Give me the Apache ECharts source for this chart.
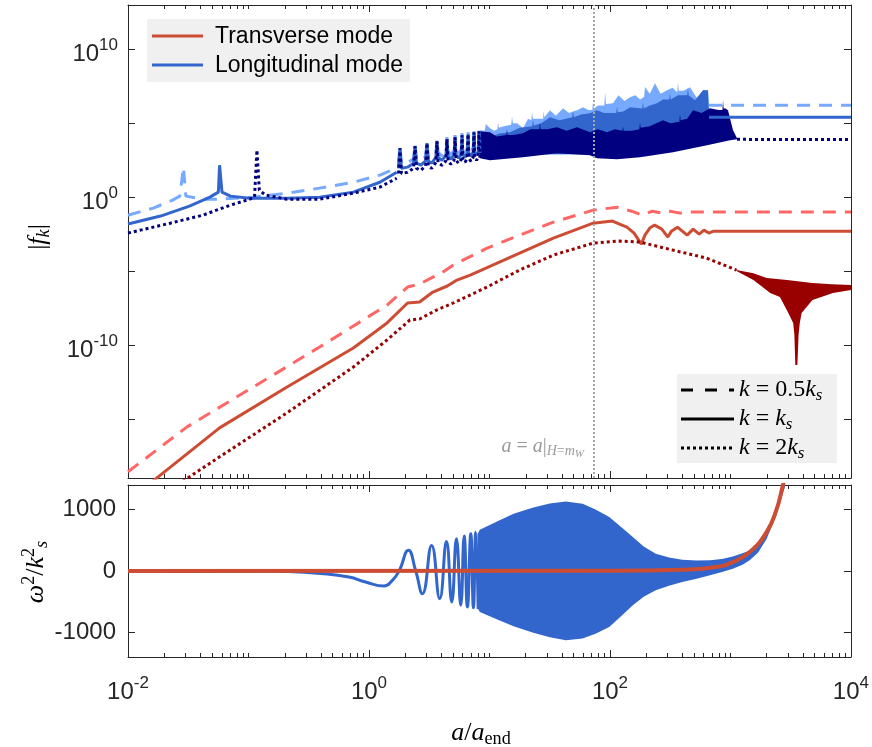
<!DOCTYPE html>
<html>
<head>
<meta charset="utf-8">
<script src="https://cdn.jsdelivr.net/npm/echarts@6/dist/echarts.min.js"></script>
<style>
html, body { margin: 0; padding: 0; background: #fff; }
#chart { width: 872px; height: 747px; }
</style>
</head>
<body>
<div id="chart"></div>
<script>
// x values are log10(a/a_end); top panel y values are log10|f_k|

// ---- top panel, longitudinal mode ----
const l05X = [-2, -1.79, -1.63, -1.57, -1.54, -1.52, -1.38, -1.24, -0.96, -0.68, -0.41, -0.13, 0.09, 0.23]
const l05Y = [-1.22, -0.74, -0.20, 0.07, 2.03, 0.07, -0.14, -0.14, 0, 0.27, 0.61, 1.01, 1.49, 1.96]
const l1X = [-2, -1.73, -1.49, -1.32, -1.25, -1.24, -1.22, -1.15, -0.99, -0.68, -0.41, -0.13, 0.09, 0.23]
const l1Y = [-1.82, -1.28, -0.61, 0, 0.34, 2.16, 0.34, 0.07, -0.07, -0.07, 0, 0.34, 1.01, 1.69]
const l2X = [-2, -1.65, -1.38, -1.15, -0.99, -0.95, -0.93, -0.91, -0.86, -0.68, -0.41, -0.13, 0.09, 0.23]
const l2Y = [-2.43, -1.76, -1.22, -0.54, -0.14, 0, 3.18, 0.47, 0.14, -0.14, -0.14, 0.27, 0.68, 1.28]

// resonance spikes, shared x for the three longitudinal curves
const spikeX = [0.245, 0.257, 0.269, 0.32, 0.37, 0.382, 0.394, 0.43, 0.47, 0.481, 0.492, 0.52,
  0.555, 0.564, 0.573, 0.605, 0.638, 0.647, 0.656, 0.68, 0.706, 0.714, 0.722, 0.743,
  0.765, 0.772, 0.779, 0.797, 0.816, 0.822, 0.828, 0.846, 0.865, 0.871, 0.877, 0.892, 0.907, 0.913, 0.921]
const spikeL05 = [2.25, 3.46, 2.25, 2.33, 2.6, 3.6, 2.6, 2.46, 2.75, 3.8, 2.75, 2.6,
  3.0, 3.93, 3.0, 2.8, 3.1, 4.07, 3.1, 2.87, 3.15, 4.2, 3.15, 2.94,
  3.2, 4.34, 3.2, 3.0, 3.3, 4.41, 3.3, 3.07, 3.35, 4.54, 3.35, 3.14, 3.4, 4.61, 3.3]
const spikeL1 = [1.95, 3.31, 1.95, 2.03, 2.3, 3.45, 2.3, 2.16, 2.45, 3.65, 2.45, 2.30,
  2.7, 3.78, 2.7, 2.5, 2.8, 3.92, 2.8, 2.57, 2.85, 4.05, 2.85, 2.64,
  2.9, 4.19, 2.9, 2.70, 3.0, 4.26, 3.0, 2.77, 3.05, 4.39, 3.05, 2.84, 3.1, 4.46, 3.0]
const spikeL2 = [1.6, 3.31, 1.6, 1.68, 1.95, 3.45, 1.95, 1.81, 2.1, 3.65, 2.1, 1.95,
  2.35, 3.78, 2.35, 2.15, 2.45, 3.92, 2.45, 2.22, 2.5, 4.05, 2.5, 2.29,
  2.55, 4.19, 2.55, 2.35, 2.65, 4.26, 2.65, 2.42, 2.7, 4.39, 2.7, 2.49, 2.75, 4.46, 2.65]

// noisy region envelopes (upper edges are jagged, lower edges hidden under the dark band)
const l05TopX = [0.921, 0.96, 0.97, 1.004, 1.04, 1.065, 1.071, 1.077, 1.12, 1.18, 1.187, 1.194, 1.23, 1.278,
  1.32, 1.347, 1.353, 1.36, 1.40, 1.445, 1.45, 1.455, 1.502, 1.55, 1.61, 1.66, 1.726, 1.776, 1.82, 1.853, 1.859,
  1.866, 1.90, 1.953, 1.959, 1.966, 2.025, 2.07, 2.12, 2.166, 2.21, 2.25, 2.284, 2.29, 2.33, 2.373, 2.42, 2.473,
  2.52, 2.558, 2.564, 2.57, 2.61, 2.664, 2.722, 2.772, 2.813, 2.822]
const l05TopY = [4.53, 4.5, 4.95, 4.66, 4.5, 4.6, 5.05, 4.7, 4.8, 4.9, 5.45, 5.0, 5.0, 4.66,
  5.3, 5.2, 5.75, 5.3, 5.3, 5.3, 5.85, 5.4, 5.88, 5.5, 6.01, 5.7, 5.88, 6.08, 5.9, 5.9, 6.42,
  6.0, 6.2, 6.2, 7.09, 6.3, 6.35, 6.9, 6.5, 6.76, 6.9, 6.6, 6.8, 7.45, 7.0, 7.70, 7.0, 7.23,
  7.4, 7.1, 7.75, 7.2, 7.2, 7.43, 6.69, 7.23, 7.23, 6.22]
const l1TopX = [0.921, 1.004, 1.08, 1.17, 1.25, 1.355, 1.361, 1.367, 1.43, 1.502, 1.58, 1.687, 1.693, 1.70, 1.76,
  1.834, 1.892, 1.95, 2.052, 2.058, 2.064, 2.11, 2.166, 2.268, 2.274, 2.28, 2.33, 2.39, 2.44, 2.492, 2.498,
  2.504, 2.564, 2.641, 2.647, 2.653, 2.705, 2.772, 2.813, 2.822]
const l1TopY = [4.46, 4.05, 4.3, 4.39, 4.7, 4.8, 5.25, 4.85, 5.0, 5.41, 5.2, 5.4, 5.88, 5.4, 5.6,
  5.68, 5.88, 5.7, 5.7, 6.15, 5.75, 5.8, 6.08, 6.0, 6.45, 6.0, 6.2, 6.35, 6.6, 6.6, 7.03,
  6.6, 6.9, 6.9, 7.36, 6.9, 6.55, 7.23, 7.23, 5.41]
const blueLowX = [0.921, 1.3, 1.8, 2.3, 2.822]
const blueLowY = [2.7, 2.9, 2.9, 3.0, 3.6]
const l2TopX = [0.921, 1.004, 1.06, 1.14, 1.145, 1.15, 1.2, 1.278, 1.34, 1.414, 1.419, 1.424, 1.48, 1.56, 1.64,
  1.726, 1.834, 1.90, 1.975, 2.04, 2.103, 2.108, 2.113, 2.18, 2.244, 2.249, 2.254, 2.33, 2.44, 2.50, 2.576,
  2.581, 2.586, 2.64, 2.689, 2.76, 2.83, 2.90, 2.933, 2.938, 2.943, 2.96, 2.979, 3.021, 3.054]
const l2TopY = [4.46, 4.39, 4.1, 4.2, 4.6, 4.2, 4.2, 4.32, 4.6, 4.6, 5.05, 4.6, 4.6, 4.73, 4.5,
  4.73, 4.39, 4.6, 4.39, 4.6, 4.5, 4.8, 4.5, 4.5, 4.6, 5.05, 4.7, 4.8, 5.20, 5.0, 5.1,
  5.6, 5.2, 5.3, 5.88, 5.7, 6.01, 5.9, 5.9, 6.55, 6.0, 6.0, 5.88, 4.53, 3.99]
const l2LowX = [0.921, 1.004, 1.278, 1.56, 1.834, 1.892, 2.058, 2.249, 2.523, 2.805, 2.996, 3.054]
const l2LowY = [2.64, 2.50, 2.70, 2.97, 2.84, 2.64, 2.57, 2.70, 3.04, 3.51, 3.85, 3.92]

// late-time plateaus
const l05TailX = [2.822, 4], l05TailY = [6.22, 6.22]
const l1TailX = [2.822, 4], l1TailY = [5.41, 5.41]
const l2TailX = [3.054, 3.2, 4], l2TailY = [3.92, 3.90, 3.90]

// ---- top panel, transverse mode ----
const t05X = [-2, -1.51, -0.96, -0.41, 0.15, 0.32, 0.42, 0.53, 0.59, 0.70, 0.98, 1.25, 1.53, 1.86, 2.06,
  2.18, 2.27, 2.35, 2.43, 2.50, 2.58, 2.66, 4]
const t05Y = [-18.58, -15.54, -12.84, -10.14, -7.30, -6.08, -5.88, -5.41, -5.20, -4.59, -3.45, -2.57, -1.69, -0.88, -0.68,
  -0.95, -1.22, -0.95, -1.08, -0.95, -1.08, -1.01, -1.01]
const t1X = [-2, -1.76, -1.24, -0.68, -0.13, 0.15, 0.32, 0.42, 0.53, 0.65, 0.73, 0.84, 1.25, 1.53, 1.86, 2.02,
  2.14, 2.2, 2.26, 2.29, 2.33, 2.37, 2.43, 2.48, 2.51, 2.56, 2.64, 2.69, 2.74, 2.78, 2.82, 2.86, 4]
const t1Y = [-20.6, -18.99, -15.61, -12.84, -10.20, -8.51, -7.16, -7.09, -6.42, -6.01, -5.61, -5.27, -3.78, -2.77, -1.76, -1.62,
  -2.03, -2.43, -3.18, -2.57, -2.09, -1.89, -2.16, -2.70, -2.30, -2.03, -2.57, -2.16, -2.50, -2.23, -2.43, -2.30, -2.30]
const t2X = [-2, -1.49, -1.24, -0.68, -0.13, 0.15, 0.34, 0.42, 0.56, 0.70, 0.98, 1.25, 1.53, 1.86, 2.08, 2.25, 2.52, 2.80, 3.05]
const t2Y = [-21.7, -18.92, -17.57, -14.59, -11.49, -9.66, -8.31, -8.24, -7.64, -7.16, -6.08, -4.93, -3.92, -3.11, -2.97, -3.04, -3.58, -4.12, -4.93]
const t2TopX = [3.05, 3.19, 3.30, 3.47, 3.68, 3.84, 4.0]
const t2TopY = [-4.93, -5.14, -5.47, -5.60, -5.81, -5.90, -5.95]
const t2LowX = [3.05, 3.19, 3.33, 3.41, 3.48, 3.52, 3.53, 3.538, 3.555, 3.565, 3.575, 3.59, 3.68, 3.85, 4.0]
const t2LowY = [-5.0, -5.61, -6.49, -6.76, -7.84, -8.51, -9.3, -11.35, -11.35, -9.3, -8.51, -7.84, -6.96, -6.49, -6.28]

const aHmW = 1.867   // log10 of a at H = m_W

// ---- bottom panel, omega^2 / k_s^2 ----
const wLX = [-2, -1, -0.7, -0.4, -0.166, -0.028, 0.125, 0.194, 0.25, 0.327, 0.388, 0.443, 0.52, 0.587, 0.643,
  0.687, 0.726, 0.762, 0.79, 0.817, 0.845, 0.867, 0.886, 0.906]
const wLY = [0, 0, -8, -40, -98, -179, -244, -152, 0, 336, 0, -369, 417, -450, 482,
  -504, 526, -558, 569, -585, 607, -600, 630, -620]
const wBandTopX = [0.9, 0.92, 1.08, 1.2, 1.357, 1.5, 1.634, 1.773, 1.88, 1.994, 2.09, 2.19, 2.28, 2.38, 2.49,
  2.6, 2.72, 2.83, 2.93, 3.02, 3.1, 3.16, 3.23, 3.3, 3.38, 3.44]
const wBandTopY = [600, 672, 824, 930, 1030, 1100, 1133, 1095, 1000, 878, 720, 553, 400, 282, 220,
  184, 170, 173, 195, 238, 290, 335, 440, 650, 1000, 1420]
const wBandLowX = [0.9, 0.92, 1.08, 1.2, 1.357, 1.5, 1.634, 1.773, 1.88, 1.994, 2.09, 2.19, 2.28, 2.38, 2.49,
  2.6, 2.72, 2.83, 2.93, 3.02, 3.1, 3.16, 3.23, 3.3, 3.38, 3.46]
const wBandLowY = [-600, -667, -802, -900, -1003, -1080, -1127, -1100, -1020, -910, -740, -558, -420, -314, -240,
  -179, -125, -70, -15, 38, 100, 173, 300, 520, 900, 1420]
const wTX = [-2, 2.0, 2.6, 2.88, 3.02, 3.16, 3.3, 3.38, 3.435, 3.47]
const wTY = [0, 3, 22, 65, 146, 309, 634, 986, 1393, 1650]

// axis ticks
const xMajor = [-2, 0, 2, 4]
const xMinor = []
for (let d = -2; d < 4; d++) {
  for (let k = 1; k <= 9; k++) {
    if (k === 1 && d % 2 === 0) continue
    xMinor.push(d + Math.log10(k))
  }
}
const fTicks = [-15, -10, -5, 0, 5, 10]
const fLabels = [-10, 0, 10]
const wTicks = [-1000, 0, 1000]

const C = {
  tSolid: '#cc4d33', tDash: '#ff6666', tDot: '#990000',
  lSolid: '#3366cc', lDash: '#77aaff', lDot: '#000080',
  axis: '#262626', gray: '#a6a6a6'
}
const SANS = 'Liberation Sans'
const SERIF = 'Liberation Serif'

const zip = (xs, ys) => xs.map((x, i) => [x, ys[i]])
const ring = (tx, ty, bx, by) => zip(tx, ty).concat(zip(bx, by).reverse())

function line(xs, ys, color, dash, width, xi, yi, smooth) {
  return {
    type: 'line', xAxisIndex: xi, yAxisIndex: yi, data: zip(xs, ys),
    showSymbol: false, symbol: 'none', smooth: !!smooth, silent: true,
    lineStyle: { color: color, width: width, type: dash, cap: 'butt' }
  }
}
function band(points, color, xi, yi) {
  return {
    type: 'custom', xAxisIndex: xi, yAxisIndex: yi, clip: true, silent: true,
    data: [[points[0][0], points[0][1]]],
    renderItem: (params, api) => ({
      type: 'polygon',
      shape: { points: points.map(p => api.coord(p)) },
      style: { fill: color }
    })
  }
}

const DASH = [13, 9], DOT = [3, 3]

const sup10 = {
  b: { fontFamily: SANS, fontSize: 24, lineHeight: 24, padding: [10, 0, 0, 0], color: C.axis },
  s: { fontFamily: SANS, fontSize: 17, lineHeight: 17, padding: [0, 0, 8, 0], color: C.axis }
}

function xAx(grid, pos, ticks, len, showLine, labels) {
  return {
    type: 'value', gridIndex: grid, position: pos, min: -2, max: 4,
    axisLine: { show: showLine, onZero: false, lineStyle: { color: C.axis, width: 1 } },
    axisTick: { show: true, inside: true, length: len, customValues: ticks, lineStyle: { color: C.axis, width: 1 } },
    axisLabel: labels ? {
      show: true, customValues: xMajor, margin: 18,
      formatter: v => '{b|10}{s|' + v + '}', rich: sup10
    } : { show: false },
    splitLine: { show: false }
  }
}
function yAx(grid, pos, min, max, ticks, labels) {
  return {
    type: 'value', gridIndex: grid, position: pos, min: min, max: max,
    axisLine: { show: true, onZero: false, lineStyle: { color: C.axis, width: 1 } },
    axisTick: { show: true, inside: true, length: 7, customValues: ticks, lineStyle: { color: C.axis, width: 1 } },
    axisLabel: labels || { show: false },
    splitLine: { show: false }
  }
}

const chart = echarts.init(document.getElementById('chart'), null, { renderer: 'canvas' })

const series = [
  // longitudinal, light dashed (k = 0.5 k_s)
  line(l05X, l05Y, C.lDash, DASH, 3, 0, 0),
  line(spikeX, spikeL05, C.lDash, DASH, 3, 0, 0),
  band(ring(l05TopX, l05TopY, blueLowX, blueLowY), C.lDash, 0, 0),
  line(l05TailX, l05TailY, C.lDash, DASH, 3, 0, 0),
  // longitudinal, solid (k = k_s)
  line(l1X, l1Y, C.lSolid, 'solid', 3, 0, 0),
  line(spikeX, spikeL1, C.lSolid, 'solid', 3, 0, 0),
  band(ring(l1TopX, l1TopY, blueLowX, blueLowY), C.lSolid, 0, 0),
  line(l1TailX, l1TailY, C.lSolid, 'solid', 3, 0, 0),
  // longitudinal, dotted (k = 2 k_s)
  line(l2X, l2Y, C.lDot, DOT, 3, 0, 0),
  line(spikeX, spikeL2, C.lDot, DOT, 3, 0, 0),
  band(ring(l2TopX, l2TopY, l2LowX, l2LowY), C.lDot, 0, 0),
  line(l2TailX, l2TailY, C.lDot, DOT, 3, 0, 0),
  // transverse
  line(t05X, t05Y, C.tDash, DASH, 3, 0, 0),
  line(t1X, t1Y, C.tSolid, 'solid', 3, 0, 0),
  line(t2X, t2Y, C.tDot, DOT, 3, 0, 0),
  band(ring(t2TopX, t2TopY, t2LowX, t2LowY), C.tDot, 0, 0),
  // a = a|_{H=m_W}
  line([aHmW, aHmW], [-19, 13], C.gray, [2, 2], 2, 0, 0),
  // bottom panel
  line(wLX, wLY, C.lSolid, 'solid', 3, 4, 2, true),
  band(ring(wBandTopX, wBandTopY, wBandLowX, wBandLowY), C.lSolid, 4, 2),
  line(wTX, wTY, C.tSolid, 'solid', 4, 4, 2, true)
]

const mathRich = (size) => ({
  i: { fontFamily: SERIF, fontStyle: 'italic', fontSize: size, fill: '#000' },
  r: { fontFamily: SERIF, fontSize: size, fill: '#000' },
  sub: { fontFamily: SERIF, fontStyle: 'italic', fontSize: size * 0.7, padding: [size * 0.45, 0, 0, 0], fill: '#000' },
  subr: { fontFamily: SERIF, fontSize: size * 0.7, padding: [size * 0.45, 0, 0, 0], fill: '#000' },
  sup: { fontFamily: SERIF, fontSize: size * 0.7, padding: [0, 0, size * 0.5, 0], fill: '#000' }
})

const grayRich = {
  i: { fontFamily: SERIF, fontStyle: 'italic', fontSize: 20, fill: '#9a9a9a' },
  r: { fontFamily: SERIF, fontSize: 20, fill: '#9a9a9a' },
  si: { fontFamily: SERIF, fontStyle: 'italic', fontSize: 14, padding: [9, 0, 0, 0], fill: '#9a9a9a' },
  sr: { fontFamily: SERIF, fontSize: 14, padding: [9, 0, 0, 0], fill: '#9a9a9a' },
  ssi: { fontFamily: SERIF, fontStyle: 'italic', fontSize: 11, padding: [15, 0, 0, 0], fill: '#9a9a9a' }
}

const graphic = [
  // mode legend
  { type: 'rect', z: 100, shape: { x: 147, y: 19, width: 263, height: 63 }, style: { fill: '#f0f0f0' } },
  { type: 'line', z: 101, shape: { x1: 152, y1: 36, x2: 203, y2: 36 }, style: { stroke: C.tSolid, lineWidth: 3 } },
  { type: 'line', z: 101, shape: { x1: 152, y1: 65, x2: 203, y2: 65 }, style: { stroke: C.lSolid, lineWidth: 3 } },
  { type: 'text', z: 101, x: 215, y: 37, style: { text: 'Transverse mode', fontFamily: SANS, fontSize: 23, fill: '#000', verticalAlign: 'middle' } },
  { type: 'text', z: 101, x: 215, y: 66, style: { text: 'Longitudinal mode', fontFamily: SANS, fontSize: 23, fill: '#000', verticalAlign: 'middle' } },
  // k legend
  { type: 'rect', z: 100, shape: { x: 677, y: 374, width: 160, height: 89 }, style: { fill: '#f0f0f0' } },
  { type: 'line', z: 101, shape: { x1: 681, y1: 390, x2: 734, y2: 390 }, style: { stroke: '#000', lineWidth: 3, lineDash: [12, 12] } },
  { type: 'line', z: 101, shape: { x1: 681, y1: 419, x2: 734, y2: 419 }, style: { stroke: '#000', lineWidth: 3 } },
  { type: 'line', z: 101, shape: { x1: 681, y1: 448, x2: 734, y2: 448 }, style: { stroke: '#000', lineWidth: 3, lineDash: [3, 3] } },
  { type: 'text', z: 101, x: 739, y: 390, style: { text: '{i|k}{r| = 0.5}{i|k}{sub|s}', rich: mathRich(24), verticalAlign: 'middle' } },
  { type: 'text', z: 101, x: 739, y: 419, style: { text: '{i|k}{r| = }{i|k}{sub|s}', rich: mathRich(24), verticalAlign: 'middle' } },
  { type: 'text', z: 101, x: 739, y: 448, style: { text: '{i|k}{r| = 2}{i|k}{sub|s}', rich: mathRich(24), verticalAlign: 'middle' } },
  // annotation of the vertical line
  { type: 'text', z: 101, x: 584, y: 447, style: { text: '{i|a}{r| = }{i|a}{r||}{si|H}{sr|=}{si|m}{ssi|W}', rich: grayRich, align: 'right', verticalAlign: 'middle' } },
  // axis names
  { type: 'text', z: 101, x: 38, y: 237, rotation: Math.PI / 2, style: { text: '{r||}{i|f}{sub|k}{r||}', rich: mathRich(26), align: 'center', verticalAlign: 'middle' } },
  { type: 'text', z: 101, x: 36, y: 572, rotation: Math.PI / 2, style: { text: '{i|ω}{sup|2}{r|/}{i|k}{sup|2}{sub|s}', rich: mathRich(26), align: 'center', verticalAlign: 'middle' } },
  { type: 'text', z: 101, x: 481, y: 733, style: { text: '{i|a}{r|/}{i|a}{subr|end}', rich: mathRich(26), align: 'center', verticalAlign: 'middle' } }
]

chart.setOption({
  animation: false,
  backgroundColor: '#fff',
  grid: [
    { left: 128, top: 5, width: 723, height: 473 },
    { left: 128, top: 485, width: 723, height: 172 }
  ],
  xAxis: [
    xAx(0, 'bottom', xMajor, 7, true, false),
    xAx(0, 'bottom', xMinor, 4, false, false),
    xAx(0, 'top', xMajor, 7, true, false),
    xAx(0, 'top', xMinor, 4, false, false),
    xAx(1, 'bottom', xMajor, 7, true, true),
    xAx(1, 'bottom', xMinor, 4, false, false),
    xAx(1, 'top', xMajor, 7, true, false),
    xAx(1, 'top', xMinor, 4, false, false)
  ],
  yAxis: [
    yAx(0, 'left', -19, 13, fTicks, {
      show: true, customValues: fLabels, margin: 10,
      formatter: v => '{b|10}{s|' + v + '}', rich: sup10
    }),
    yAx(0, 'right', -19, 13, fTicks),
    yAx(1, 'left', -1400, 1400, wTicks, {
      show: true, customValues: wTicks, margin: 12, color: C.axis,
      fontFamily: SANS, fontSize: 24, formatter: v => String(v)
    }),
    yAx(1, 'right', -1400, 1400, wTicks)
  ],
  series: series,
  graphic: graphic
})
</script>
</body>
</html>
